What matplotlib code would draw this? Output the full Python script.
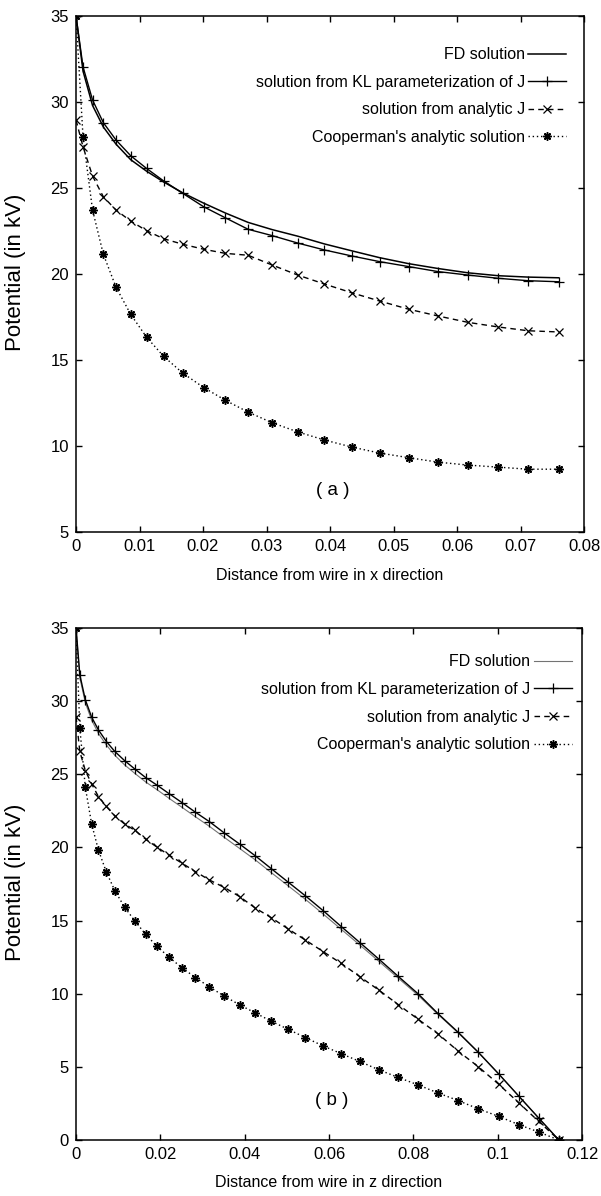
import numpy as np
import matplotlib
matplotlib.use('Agg')
import matplotlib.pyplot as plt

# ---- data, panel (a): distance in x direction ----
xa = [0, 0.0011, 0.0026, 0.0043, 0.0063, 0.0086, 0.0111, 0.0138, 0.0168, 0.0201, 0.0235, 0.0271,
      0.0309, 0.0349, 0.0391, 0.0434, 0.0478, 0.0524, 0.0570, 0.0617, 0.0665, 0.0712, 0.0760]
fd_a = [35, 31.8, 29.8, 28.55, 27.55, 26.65, 25.98, 25.35, 24.72, 24.12, 23.55, 23.0,
        22.58, 22.2, 21.75, 21.35, 20.95, 20.6, 20.32, 20.07, 19.9, 19.82, 19.78]
kl_a = [35, 32.05, 30.12, 28.8, 27.79, 26.88, 26.14, 25.41, 24.69, 23.91, 23.27, 22.6,
        22.23, 21.8, 21.4, 21.05, 20.72, 20.43, 20.14, 19.94, 19.75, 19.61, 19.55]
anj_a = [28.95, 27.4, 25.7, 24.49, 23.72, 23.08, 22.52, 22.05, 21.73, 21.44, 21.2, 21.09,
         20.52, 19.94, 19.42, 18.91, 18.43, 17.95, 17.56, 17.19, 16.92, 16.7, 16.63]
coop_a = [35, 27.98, 23.72, 21.15, 19.23, 17.66, 16.33, 15.21, 14.24, 13.4, 12.66, 11.97,
          11.35, 10.82, 10.35, 9.94, 9.59, 9.32, 9.06, 8.89, 8.77, 8.65, 8.65]

# ---- data, panel (b): distance in z direction ----
xb = [0, 0.0009, 0.0022, 0.0037, 0.0053, 0.0072, 0.0092, 0.0115, 0.0140, 0.0165, 0.0192, 0.0221,
      0.0251, 0.0283, 0.0316, 0.0352, 0.0388, 0.0425, 0.0463, 0.0503, 0.0544, 0.0586, 0.0629,
      0.0673, 0.0718, 0.0764, 0.0811, 0.0858, 0.0906, 0.0954, 0.1002, 0.1050, 0.1097, 0.1145]
fd_b = [35, 31.6, 29.9, 28.7, 27.8, 27.0, 26.3, 25.65, 25.05, 24.48, 23.95, 23.35,
        22.75, 22.1, 21.45, 20.68, 19.93, 19.15, 18.28, 17.38, 16.45, 15.45, 14.4,
        13.33, 12.22, 11.07, 9.9, 8.6, 7.33, 5.98, 4.52, 3.0, 1.5, 0]
kl_b = [35, 31.8, 30.1, 28.91, 28.04, 27.24, 26.56, 25.94, 25.35, 24.78, 24.26, 23.67,
        23.07, 22.41, 21.77, 20.98, 20.23, 19.43, 18.55, 17.63, 16.69, 15.68, 14.59,
        13.5, 12.37, 11.19, 10.0, 8.65, 7.37, 6.0, 4.53, 3.0, 1.51, 0]
anj_b = [28.95, 26.56, 25.26, 24.35, 23.48, 22.8, 22.16, 21.61, 21.16, 20.57, 20.02, 19.47,
         18.93, 18.35, 17.78, 17.26, 16.64, 15.86, 15.2, 14.43, 13.67, 12.88, 12.07,
         11.17, 10.25, 9.26, 8.26, 7.27, 6.08, 5.01, 3.82, 2.54, 1.28, 0]
coop_b = [35, 28.16, 24.12, 21.61, 19.83, 18.31, 17.05, 15.92, 14.96, 14.06, 13.24, 12.49,
          11.78, 11.11, 10.47, 9.83, 9.24, 8.69, 8.12, 7.57, 7.0, 6.43, 5.9,
          5.37, 4.8, 4.28, 3.77, 3.22, 2.7, 2.13, 1.62, 1.05, 0.55, 0]

labels = ['FD solution', 'solution from KL parameterization of J',
          'solution from analytic J', "Cooperman's analytic solution"]

xticks_a = [0, 0.01, 0.02, 0.03, 0.04, 0.05, 0.06, 0.07, 0.08]
xticklabels_a = ['0', '0.01', '0.02', '0.03', '0.04', '0.05', '0.06', '0.07', '0.08']
yticks_a = [5, 10, 15, 20, 25, 30, 35]
xticks_b = [0, 0.02, 0.04, 0.06, 0.08, 0.1, 0.12]
xticklabels_b = ['0', '0.02', '0.04', '0.06', '0.08', '0.1', '0.12']
yticks_b = [0, 5, 10, 15, 20, 25, 30, 35]

plt.rcParams['font.family'] = ['Liberation Sans', 'DejaVu Sans']
fs = 11.5      # legend / axis label size
tfs = 12       # tick label size

fig = plt.figure(figsize=(6.01, 11.96), dpi=100)
ax_a = fig.add_axes([0.1265, 0.5552, 0.8453, 0.4314])
ax_b = fig.add_axes([0.1265, 0.0468, 0.8420, 0.4281])

asterisk = (8, 2, 0)  # gnuplot-style '*' point


def draw_panel(ax, x, fd, kl, anj, coop, fd_style):
    ax.plot(x, fd, **fd_style, label=labels[0])
    ax.plot(x, kl, color='black', lw=1.0, marker='+', ms=7, mew=0.9, label=labels[1])
    ax.plot(x, anj, color='black', lw=1.0, ls=(0, (4, 3)), marker='x', ms=5.5, mew=0.9, label=labels[2])
    ax.plot(x, coop, color='black', lw=1.0, ls=(0, (1, 2)), marker=asterisk, ms=6, mew=1.1,
            label=labels[3])
    ax.tick_params(direction='in', top=True, right=True, length=4.5, width=1,
                   labelsize=tfs, pad=5)
    for sp in ax.spines.values():
        sp.set_linewidth(1.1)


# panel (a)
draw_panel(ax_a, xa, fd_a, kl_a, anj_a, coop_a, dict(color='black', lw=1.1))
ax_a.set_xlim(0, 0.08)
ax_a.set_ylim(5, 35)
ax_a.set_xticks(xticks_a)
ax_a.set_xticklabels(xticklabels_a)
ax_a.set_yticks(yticks_a)
ax_a.set_xlabel('Distance from wire in x direction', fontsize=fs)
ax_a.xaxis.set_label_coords(0.5, -0.085)
ax_a.xaxis.label.set_va('center')
ax_a.set_ylabel('Potential (in kV)', fontsize=16)
ax_a.yaxis.set_label_coords(-0.119, 0.504)
ax_a.yaxis.label.set_va('center')
ax_a.text(0.0405, 7.4, '( a )', fontsize=13.5, ha='center', va='center')
ax_a.legend(loc='upper right', bbox_to_anchor=(0.965, 0.939), frameon=False, markerfirst=False,
            fontsize=fs, handlelength=2.4, handletextpad=0.2, borderpad=0, borderaxespad=0,
            labelspacing=0.78, numpoints=1)

# panel (b)
draw_panel(ax_b, xb, fd_b, kl_b, anj_b, coop_b, dict(color='0.45', lw=0.8))
ax_b.set_xlim(0, 0.12)
ax_b.set_ylim(0, 35)
ax_b.set_xticks(xticks_b)
ax_b.set_xticklabels(xticklabels_b)
ax_b.set_yticks(yticks_b)
ax_b.set_xlabel('Distance from wire in z direction', fontsize=fs)
ax_b.xaxis.set_label_coords(0.5, -0.082)
ax_b.xaxis.label.set_va('center')
ax_b.set_ylabel('Potential (in kV)', fontsize=16)
ax_b.yaxis.set_label_coords(-0.119, 0.504)
ax_b.yaxis.label.set_va('center')
ax_b.text(0.0606, 2.7, '( b )', fontsize=13.5, ha='center', va='center')
ax_b.legend(loc='upper right', bbox_to_anchor=(0.98, 0.949), frameon=False, markerfirst=False,
            fontsize=fs, handlelength=2.4, handletextpad=0.2, borderpad=0, borderaxespad=0,
            labelspacing=0.8, numpoints=1)

fig.savefig('out.png', dpi=100)
